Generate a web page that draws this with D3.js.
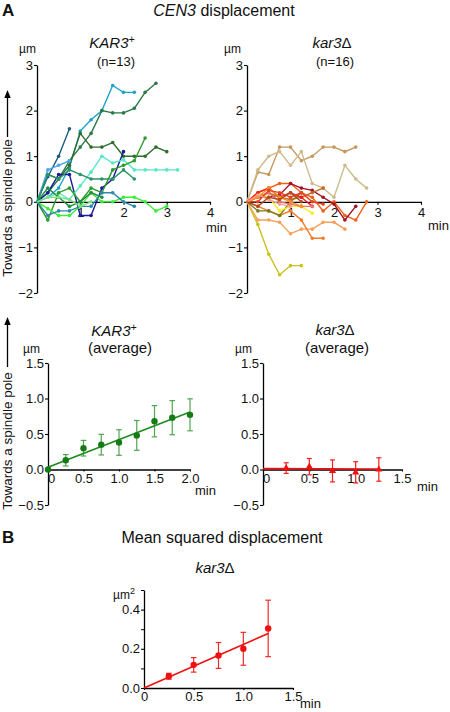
<!DOCTYPE html>
<html><head><meta charset="utf-8">
<script src="https://cdn.jsdelivr.net/npm/d3@7"></script>
<style>
body{margin:0;background:#fff}
svg{display:block}
text{font-family:"Liberation Sans",Arial,Helvetica,sans-serif;fill:#111}
</style>
</head><body>
<svg id="c" width="450" height="712"></svg>
<script>
// ---------- DATA ----------
const sampleInterval = 0.25; // min between consecutive frames of each trace

// KAR3+ individual CEN3 traces (µm), one value per frame
const kar3Colors = ["#1fa3c9","#2b7a47","#2d6e2d","#1d5d80","#4aa8f0","#1a1a9a","#55e8c4","#2a9468","#2c9a2c","#38ee38","#2a8aa8","#1f8f3f","#80e080"];
const kar3Traces = [
  [0, 0.1, 0.3, 0.75, 1.55, 1.8, 2.0, 2.55, 2.4, 2.4],
  [0, 0.2, 0.5, 0.9, 1.2, 1.5, 2.0, 1.95, 1.95, 2.05, 2.4, 2.6],
  [0, 0.6, 0.5, 0.8, 1.5, 1.2, 1.2, 1.3, 1.0, 1.0, 1.0, 1.2, 1.1],
  [0, 0.55, 1.0, 1.6],
  [0, 0.7, 0.8, 0.9],
  [0, 0.2, 0.6, 0.6, -0.3, -0.3, 0.3, 0.5, 1.1],
  [0, 0.1, 0.2, 0.05, 0.35, 0.65, 1.0, 0.85, 0.92, 0.7, 0.7, 0.7, 0.7, 0.7],
  [0, 0.6, 0.5, 0.7, 0.6, 0.5, 0.5, 0.5, 0.7, 0.5],
  [0, -0.4, 0.2, 0.3, 0.0, 0.3, 0.2, 0.7, 0.8, 0.9, 1.4],
  [0, -0.15, -0.3, -0.3, -0.1, 0.2, 0, 0, 0.1, 0.1, 0, -0.2, -0.1],
  [0, -0.3, -0.2, -0.2, -0.1, -0.1, 0.2, 0.2, 0, -0.1],
  [0, 0.3, 0.1, -0.1, 0.0, 0.2, 0.1],
  [0, 0.1, 0.1, 0.05, -0.1, 0.0]
];

// kar3Δ individual CEN3 traces (µm)
const delColors = ["#c8965a","#cdbb8c","#c8c21e","#f6a05a","#f47a2a","#f06018","#a01424","#c46a2c","#7c7a1e","#f8ec1e","#f01e1e","#f07070","#f89020","#e84020","#f0a090","#b04a1c"];
const delTraces = [
  [0, 0.65, 0.6, 1.2, 1.2, 0.9, 1.0, 1.2, 1.2, 1.1, 1.2],
  [0, 0.7, 1.0, 1.1, 0.8, 1.1, 0.4, 0.3, 0.1, 0.8, 0.5, 0.3],
  [0, -0.5, -1.15, -1.6, -1.4, -1.4],
  [0, -0.4, -0.4, -0.45, -0.7, -0.6, -0.6, -0.45, -0.45, -0.6],
  [0, -0.1, -0.2, -0.3, -0.2, -0.4, -0.8, -0.8],
  [0, 0.2, 0.3, 0.4, 0.4, 0.2, 0.1, -0.2, 0, -0.3, -0.4, 0],
  [0, 0.1, 0.1, 0.15, 0.4, 0.3, 0.25, 0.1, -0.05, -0.4, -0.1],
  [0, 0.1, 0.2, 0.1, 0.05, 0.1, 0.2, 0.3],
  [0, -0.2, -0.2, -0.3, 0, 0.2],
  [0, 0.2, 0.1, -0.2, -0.1, -0.1, -0.25],
  [0, 0.2, 0.3, 0.1, 0.2, 0.1, -0.1],
  [0, 0.1, 0.2, 0.0, -0.05, -0.1, -0.1],
  [0, 0.1, 0.3, 0.1, 0.0, -0.1],
  [0, 0.0, 0.25, 0.2, 0.1, 0.2, 0.0, -0.05],
  [0, 0.15, 0.05, -0.05, -0.1],
  [0, -0.1, 0.1, 0.05, 0.2, 0.0]
];

// KAR3+ average
const kar3AvgTime = [0, 0.25, 0.5, 0.75, 1.0, 1.25, 1.5, 1.75, 2.0];
const kar3AvgMean = [0, 0.13, 0.30, 0.35, 0.38, 0.48, 0.68, 0.73, 0.77];
const kar3AvgErr  = [0, 0.08, 0.11, 0.145, 0.18, 0.21, 0.22, 0.24, 0.225];
const kar3FitX = [0, 2.0];
const kar3FitY = [0.03, 0.81];

// kar3Δ average
const delAvgTime = [0.25, 0.5, 0.75, 1.0, 1.25];
const delAvgMean = [0.02, 0.04, -0.02, -0.04, 0.0];
const delAvgErr  = [0.075, 0.115, 0.155, 0.15, 0.165];
const delFitX = [0, 1.25];
const delFitY = [0.012, 0.006];

// Mean squared displacement kar3Δ
const msdTime = [0.25, 0.5, 0.75, 1.0, 1.25];
const msdMean = [0.06, 0.118, 0.166, 0.20, 0.304];
const msdErr  = [0.015, 0.037, 0.066, 0.084, 0.144];
const msdFitX = [0, 1.25];
const msdFitY = [0, 0.278];

// tick values
const topYTicks = [-2, -1, 0, 1, 2, 3];
const topXTicks = [1, 2, 3, 4];
const avgYTicks = [-0.5, 0, 0.5, 1.0, 1.5];
const kar3AvgXTicks = [0, 0.5, 1.0, 1.5, 2.0];
const delAvgXTicks = [0, 0.5, 1.0, 1.5];
const msdYTicks = [0, 0.2, 0.4];
const msdYMinor = [0.1, 0.3, 0.5];
const msdXTicks = [0, 0.5, 1.0, 1.5];

// ---------- DRAW ----------
const svg = d3.select("#c");
const FONT = '"Liberation Sans", Arial, Helvetica, sans-serif';

function styleAxis(sel, fs) {
  sel.attr("font-family", FONT).attr("font-size", fs);
  sel.select(".domain").attr("stroke", "#000").attr("stroke-width", 1.3);
  sel.selectAll(".tick line").attr("stroke", "#000").attr("stroke-width", 1.1);
  sel.selectAll(".tick text").attr("fill", "#111");
}

function makePanel(c) {
  const x = d3.scaleLinear().domain(c.xd).range(c.xr);
  const y = d3.scaleLinear().domain(c.yd).range(c.yr);
  const g = svg.append("g");
  const ya = d3.axisLeft(y).tickValues(c.yt).tickSize(3).tickSizeOuter(0).tickPadding(1).tickFormat(c.yf);
  g.append("g").attr("transform", `translate(${x(c.xd[0])},0)`).call(ya).call(s => styleAxis(s, 13));
  if (c.yminor) {
    g.append("g").attr("transform", `translate(${x(c.xd[0])},0)`)
      .call(d3.axisLeft(y).tickValues(c.yminor).tickSize(3).tickSizeOuter(0).tickFormat(""))
      .call(s => { s.select(".domain").remove(); s.selectAll("line").attr("stroke", "#000"); });
  }
  const xa = d3.axisBottom(x).tickValues(c.xt).tickSize(c.xts).tickSizeOuter(0).tickPadding(c.xtp).tickFormat(c.xf);
  const xg = g.append("g").attr("transform", `translate(0,${y(0)})`).call(xa).call(s => styleAxis(s, 13));
  return { x, y, g, xg };
}

function traces(p, data, colors) {
  data.forEach((vals, i) => {
    const pts = vals.map((v, k) => [k * sampleInterval, v]);
    p.g.append("path").datum(pts)
      .attr("fill", "none").attr("stroke", colors[i]).attr("stroke-width", 1.4)
      .attr("d", d3.line().x(d => p.x(d[0])).y(d => p.y(d[1])));
    p.g.selectAll(null).data(pts.slice(1)).enter().append("circle")
      .attr("cx", d => p.x(d[0])).attr("cy", d => p.y(d[1])).attr("r", 1.8)
      .attr("fill", colors[i]);
  });
}

function errorBars(p, t, m, e, color, cap) {
  t.forEach((tt, i) => {
    if (!e[i]) return;
    const xx = p.x(tt), y1 = p.y(m[i] + e[i]), y2 = p.y(m[i] - e[i]);
    p.g.append("line").attr("x1", xx).attr("x2", xx).attr("y1", y1).attr("y2", y2)
      .attr("stroke", color).attr("stroke-width", 1.2);
    [y1, y2].forEach(yy => p.g.append("line").attr("x1", xx - cap).attr("x2", xx + cap)
      .attr("y1", yy).attr("y2", yy).attr("stroke", color).attr("stroke-width", 1.2));
  });
}

function fitLine(p, fx, fy, color) {
  p.g.append("line").attr("x1", p.x(fx[0])).attr("x2", p.x(fx[1]))
    .attr("y1", p.y(fy[0])).attr("y2", p.y(fy[1]))
    .attr("stroke", color).attr("stroke-width", 1.6);
}

function text(x, y, str, opts = {}) {
  const t = svg.append("text").attr("x", x).attr("y", y)
    .attr("font-size", opts.fs || 13)
    .attr("text-anchor", opts.anchor || "start")
    .attr("font-weight", opts.bold ? "bold" : null)
    .attr("font-style", opts.italic ? "italic" : null);
  if (str != null) t.text(str);
  return t;
}

function kar3Title(cx, y, fs) {
  const t = text(cx, y, null, { fs, anchor: "middle" });
  t.append("tspan").attr("font-style", "italic").text("KAR3");
  t.append("tspan").attr("font-style", "italic").attr("font-size", fs * 0.7).attr("dy", -fs * 0.35).text("+");
}
function delTitle(cx, y, fs) {
  const t = text(cx, y, null, { fs, anchor: "middle" });
  t.append("tspan").attr("font-style", "italic").text("kar3");
  t.append("tspan").text("Δ");
}
function yLabel(cy, xBase, arrowTop, arrowBottom) {
  svg.append("text").attr("transform", `translate(${xBase},${cy}) rotate(-90)`)
    .attr("text-anchor", "middle").attr("font-size", 13.5).text("Towards a spindle pole");
  const ax = xBase - 4.5;
  svg.append("line").attr("x1", ax).attr("x2", ax).attr("y1", arrowBottom).attr("y2", arrowTop + 6)
    .attr("stroke", "#000").attr("stroke-width", 1.3);
  svg.append("path").attr("d", `M${ax},${arrowTop} L${ax - 3.2},${arrowTop + 8} L${ax + 3.2},${arrowTop + 8} Z`).attr("fill", "#000");
}

// Headings
text(2, 16, "A", { fs: 17, bold: true });
{
  const t = text(224, 16, null, { fs: 16, anchor: "middle" });
  t.append("tspan").attr("font-style", "italic").text("CEN3");
  t.append("tspan").text(" displacement");
}

// Top-left: KAR3+ traces
const fmtInt = d3.format("d");
const pTL = makePanel({ xd: [0, 4], xr: [37, 210], yd: [-2, 3], yr: [293, 65],
  yt: topYTicks, yf: fmtInt, xt: topXTicks, xf: fmtInt, xts: 3, xtp: 3 });
traces(pTL, kar3Traces, kar3Colors);
kar3Title(112, 48, 15);
text(116, 66, "(n=13)", { fs: 13, anchor: "middle" });
text(19, 53, "µm", { fs: 12 });
text(206, 232, "min", { fs: 13 });

// Top-right: kar3Δ traces
const pTR = makePanel({ xd: [0, 4], xr: [247, 421], yd: [-2, 3], yr: [293, 65],
  yt: topYTicks, yf: fmtInt, xt: topXTicks, xf: fmtInt, xts: 3, xtp: 3 });
traces(pTR, delTraces, delColors);
delTitle(332, 48, 15);
text(335, 66, "(n=16)", { fs: 13, anchor: "middle" });
text(224, 53, "µm", { fs: 12 });
text(428, 230, "min", { fs: 13 });

yLabel(208, 12, 90, 137);

// Bottom-left: KAR3+ average
const fmt1 = d3.format(".1f");
const fmtX = d => d === 0 ? "0" : d3.format(".1f")(d);
const pBL = makePanel({ xd: [0, 2], xr: [48, 190], yd: [-0.5, 1.5], yr: [505, 363],
  yt: avgYTicks, yf: fmt1, xt: kar3AvgXTicks, xf: fmtX, xts: 2, xtp: 2 });
pBL.xg.selectAll(".tick text").filter(d => d === 0).attr("dx", 3);
errorBars(pBL, kar3AvgTime, kar3AvgMean, kar3AvgErr, "#4fa64f", 2.8);
fitLine(pBL, kar3FitX, kar3FitY, "#1c8c1c");
pBL.g.selectAll(null).data(kar3AvgTime.map((t, i) => [t, kar3AvgMean[i]])).enter().append("circle")
  .attr("cx", d => pBL.x(d[0])).attr("cy", d => pBL.y(d[1])).attr("r", 3.2).attr("fill", "#167a16");
kar3Title(114, 336, 15);
text(120, 353, "(average)", { fs: 15, anchor: "middle" });
text(23, 353, "µm", { fs: 12 });
text(195, 495, "min", { fs: 13 });

// Bottom-right: kar3Δ average
const pBR = makePanel({ xd: [0, 1.5], xr: [263, 402], yd: [-0.5, 1.5], yr: [505, 363],
  yt: avgYTicks, yf: fmt1, xt: delAvgXTicks, xf: fmtX, xts: 2, xtp: 2 });
pBR.xg.selectAll(".tick text").filter(d => d === 0).attr("dx", 3);
errorBars(pBR, delAvgTime, delAvgMean, delAvgErr, "#f22020", 2.5);
fitLine(pBR, delFitX, delFitY, "#f01010");
pBR.g.selectAll(null).data(delAvgTime.map((t, i) => [t, delAvgMean[i]])).enter().append("path")
  .attr("transform", d => `translate(${pBR.x(d[0])},${pBR.y(d[1])})`)
  .attr("d", d3.symbol(d3.symbolTriangle, 22)).attr("fill", "#f01010");
delTitle(335, 335, 15);
text(337, 353, "(average)", { fs: 15, anchor: "middle" });
text(235, 353, "µm", { fs: 12 });
text(417, 491, "min", { fs: 13 });

yLabel(441, 12, 317, 367);

// B: Mean squared displacement
text(2, 543, "B", { fs: 17, bold: true });
text(222, 543, "Mean squared displacement", { fs: 16, anchor: "middle" });
delTitle(215, 573, 15);
{
  const t = text(113, 599, null, { fs: 12 });
  t.append("tspan").text("µm");
  t.append("tspan").attr("font-size", 9).attr("dy", -5).text("2");
}
const pB = makePanel({ xd: [0, 1.5], xr: [144, 293], yd: [0, 0.5], yr: [688, 590],
  yt: msdYTicks, yf: fmt1, yminor: msdYMinor, xt: msdXTicks, xf: fmtX, xts: 2, xtp: 2 });
errorBars(pB, msdTime, msdMean, msdErr, "#f02a2a", 2.8);
fitLine(pB, msdFitX, msdFitY, "#f01010");
pB.g.selectAll(null).data(msdTime.map((t, i) => [t, msdMean[i]])).enter().append("circle")
  .attr("cx", d => pB.x(d[0])).attr("cy", d => pB.y(d[1])).attr("r", 3.2).attr("fill", "#f01010");
text(300, 708, "min", { fs: 13 });
</script>
</body></html>
